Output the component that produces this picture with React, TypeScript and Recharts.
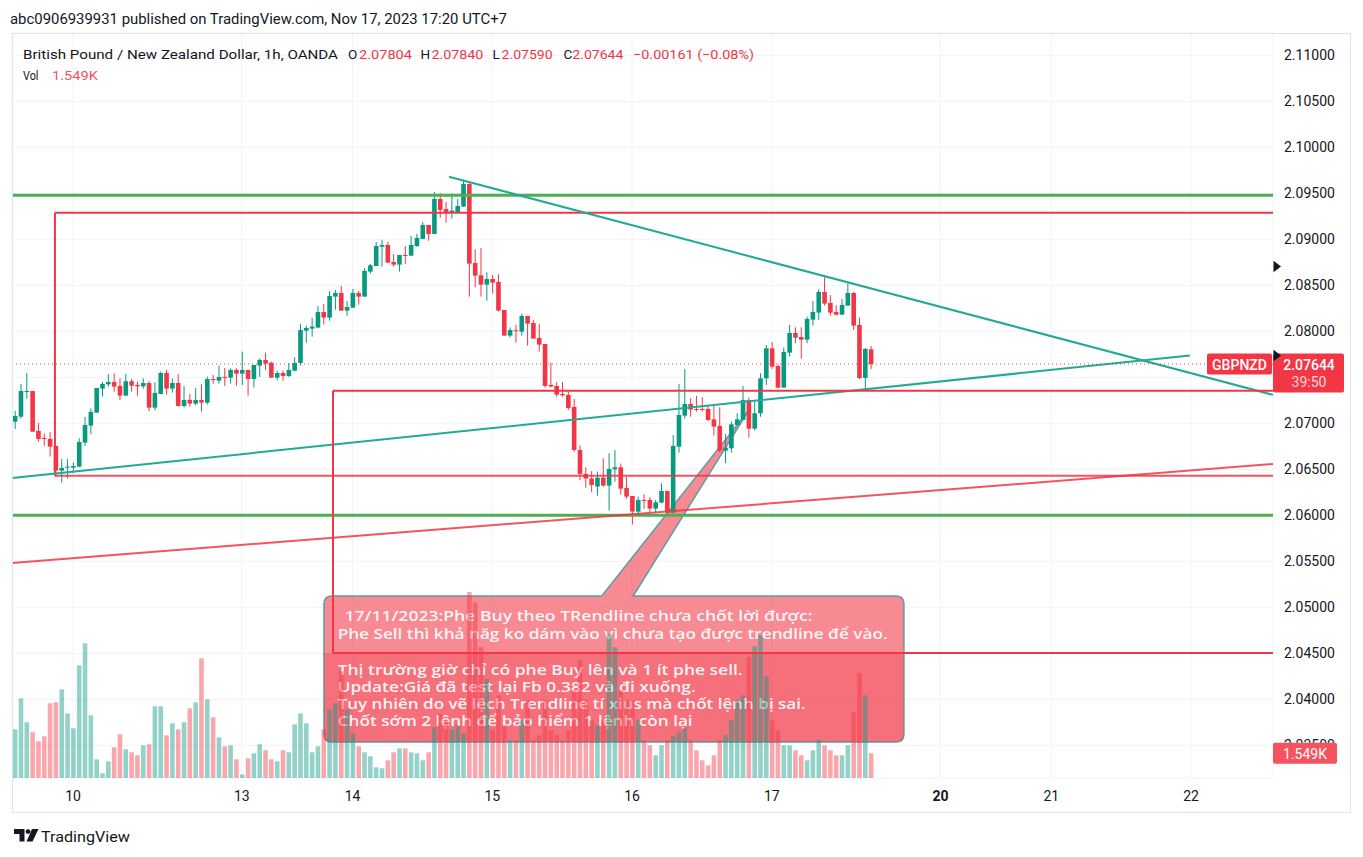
import React from 'react';
import { ComposedChart, Bar, XAxis, YAxis, CartesianGrid, ReferenceLine, ReferenceArea, Cell } from 'recharts';

// ---------- data (hourly bars, index 0 = Nov 10 00:00 UTC+7) ----------
const FIRST_BAR = -10;

const opens = [
  2.07018, 2.07072, 2.07344, 2.07351, 2.06917, 2.06841, 2.0683, 2.06754, 2.06486, 2.06518,
  2.06518, 2.06529, 2.0679, 2.06975, 2.07116, 2.07377, 2.07424, 2.07449, 2.07406, 2.07301,
  2.07457, 2.07417, 2.07402, 2.07438, 2.0717, 2.07319, 2.07547, 2.07377, 2.07438, 2.07188,
  2.07254, 2.07214, 2.07254, 2.07225, 2.07482, 2.07464, 2.07504, 2.07496, 2.0758, 2.0754,
  2.0758, 2.07482, 2.07627, 2.07688, 2.07659, 2.07496, 2.07547, 2.07514, 2.07572, 2.07656,
  2.08007, 2.08029, 2.0804, 2.0821, 2.08149, 2.08377, 2.08417, 2.08225, 2.08257, 2.08417,
  2.08377, 2.08649, 2.0871, 2.0892, 2.08938, 2.08754, 2.08725, 2.0883, 2.08822, 2.08927,
  2.09004, 2.09156, 2.09058, 2.09438, 2.0933, 2.09293, 2.09293, 2.09355, 2.09601, 2.08743,
  2.08609, 2.08507, 2.08569, 2.08536, 2.08232, 2.07953, 2.08011, 2.07996, 2.08167, 2.08091,
  2.07928, 2.07862, 2.07417, 2.07406, 2.07319, 2.07308, 2.07178, 2.0671, 2.0645, 2.064,
  2.06312, 2.06409, 2.06323, 2.065, 2.06522, 2.06297, 2.0621, 2.0604, 2.06167, 2.06167,
  2.06073, 2.06138, 2.06265, 2.06029, 2.06746, 2.07083, 2.0721, 2.07156, 2.07156, 2.07156,
  2.07043, 2.06971, 2.06703, 2.06728, 2.06982, 2.07036, 2.07254, 2.06942, 2.07109, 2.07489,
  2.07815, 2.07623, 2.07388, 2.07768, 2.07982, 2.07938, 2.07909, 2.08127, 2.08203, 2.08428,
  2.08308, 2.0821, 2.08181, 2.08279, 2.08417, 2.08069, 2.07493, 2.07804,
];
const highs = [
  2.07134, 2.07428, 2.07547, 2.07351, 2.07004, 2.06888, 2.06906, 2.06754, 2.06612, 2.06612,
  2.06576, 2.06837, 2.07069, 2.07163, 2.07384, 2.07449, 2.07536, 2.07543, 2.07489, 2.07536,
  2.07482, 2.07453, 2.07489, 2.07457, 2.07446, 2.07562, 2.07583, 2.07486, 2.07536, 2.07406,
  2.07319, 2.07384, 2.07424, 2.07507, 2.07525, 2.07627, 2.07601, 2.07598, 2.07598, 2.07779,
  2.0758, 2.07634, 2.07707, 2.07768, 2.0767, 2.07572, 2.07572, 2.07656, 2.07717, 2.0808,
  2.08062, 2.08145, 2.08275, 2.08297, 2.08438, 2.08449, 2.08493, 2.0833, 2.0846, 2.08438,
  2.08685, 2.08732, 2.08971, 2.08993, 2.08971, 2.08841, 2.0883, 2.08927, 2.09036, 2.09058,
  2.09188, 2.09156, 2.09514, 2.095, 2.09406, 2.095, 2.09438, 2.09652, 2.09616, 2.08891,
  2.08906, 2.08641, 2.08612, 2.0862, 2.08232, 2.08043, 2.08072, 2.08192, 2.08167, 2.08123,
  2.0808, 2.07862, 2.07659, 2.07449, 2.07449, 2.07344, 2.07265, 2.0676, 2.0652, 2.0648,
  2.06475, 2.0662, 2.06674, 2.0671, 2.06562, 2.0642, 2.0621, 2.06203, 2.06228, 2.06199,
  2.06167, 2.06348, 2.06265, 2.06873, 2.07428, 2.07591, 2.07272, 2.07297, 2.07283, 2.07192,
  2.07207, 2.07174, 2.06884, 2.07018, 2.07109, 2.07406, 2.07279, 2.07236, 2.07543, 2.07851,
  2.07884, 2.07641, 2.07826, 2.08069, 2.08043, 2.08043, 2.08159, 2.0833, 2.08456, 2.08587,
  2.08395, 2.08283, 2.08351, 2.08522, 2.08428, 2.08149, 2.07819, 2.0784,
];
const lows = [
  2.06938, 2.07051, 2.07268, 2.06909, 2.06801, 2.06754, 2.06638, 2.0642, 2.06355, 2.06402,
  2.06457, 2.06522, 2.06754, 2.0688, 2.07116, 2.0729, 2.07399, 2.07344, 2.07254, 2.07297,
  2.07344, 2.07301, 2.07377, 2.0713, 2.07141, 2.07315, 2.07312, 2.07333, 2.07181, 2.07174,
  2.07181, 2.07196, 2.07127, 2.07203, 2.07431, 2.07431, 2.07406, 2.07431, 2.07409, 2.07417,
  2.07301, 2.07388, 2.07504, 2.0758, 2.07496, 2.07467, 2.07464, 2.07504, 2.07565, 2.07627,
  2.07877, 2.07942, 2.0804, 2.08072, 2.08116, 2.08235, 2.08225, 2.0817, 2.08257, 2.0829,
  2.08377, 2.08627, 2.0871, 2.08703, 2.08746, 2.08703, 2.08649, 2.08732, 2.08822, 2.08917,
  2.09004, 2.08985, 2.09058, 2.09235, 2.09181, 2.09225, 2.09293, 2.09355, 2.08377, 2.08478,
  2.08377, 2.08333, 2.08409, 2.08214, 2.07953, 2.07931, 2.07877, 2.07953, 2.07844, 2.0792,
  2.07779, 2.07388, 2.07391, 2.0729, 2.0729, 2.07145, 2.0669, 2.0638, 2.063, 2.0625,
  2.06214, 2.06312, 2.06051, 2.06366, 2.06225, 2.06181, 2.05899, 2.05993, 2.06069, 2.06029,
  2.06022, 2.0613, 2.06004, 2.06022, 2.06681, 2.07051, 2.07072, 2.07127, 2.07127, 2.07025,
  2.06866, 2.06685, 2.06565, 2.06681, 2.06982, 2.07036, 2.06844, 2.0692, 2.07072, 2.07417,
  2.07591, 2.0738, 2.07388, 2.07725, 2.0787, 2.07703, 2.0787, 2.08062, 2.08123, 2.08279,
  2.0817, 2.0817, 2.08181, 2.08279, 2.08014, 2.07482, 2.07355, 2.0759,
];
const closes = [
  2.0708, 2.07351, 2.07351, 2.06909, 2.0683, 2.0683, 2.06746, 2.06486, 2.06515, 2.06529,
  2.06536, 2.06797, 2.06982, 2.07123, 2.07384, 2.07428, 2.07449, 2.07399, 2.07301, 2.07457,
  2.07409, 2.07402, 2.07438, 2.0717, 2.0733, 2.07547, 2.07377, 2.07438, 2.07188, 2.07254,
  2.07214, 2.07254, 2.07225, 2.07482, 2.07471, 2.07504, 2.07496, 2.0758, 2.0754, 2.0758,
  2.07482, 2.07634, 2.07688, 2.07649, 2.07496, 2.07547, 2.07514, 2.0758, 2.07656, 2.08014,
  2.08036, 2.08051, 2.0821, 2.08149, 2.08384, 2.08417, 2.08225, 2.08264, 2.08417, 2.08377,
  2.08656, 2.08717, 2.08927, 2.08938, 2.08746, 2.08725, 2.0883, 2.08822, 2.08938, 2.09014,
  2.09156, 2.09058, 2.09438, 2.09319, 2.0929, 2.09312, 2.09362, 2.09601, 2.08735, 2.08605,
  2.08507, 2.08569, 2.08529, 2.08225, 2.07953, 2.08014, 2.08004, 2.08167, 2.08083, 2.0792,
  2.07855, 2.07406, 2.07399, 2.07312, 2.07304, 2.07167, 2.0671, 2.0645, 2.064, 2.0633,
  2.06409, 2.06323, 2.06504, 2.06522, 2.0629, 2.06203, 2.0604, 2.06167, 2.06156, 2.06073,
  2.06141, 2.06265, 2.06029, 2.06754, 2.07091, 2.0721, 2.07149, 2.07145, 2.07145, 2.07036,
  2.06964, 2.06703, 2.06736, 2.06989, 2.07043, 2.07254, 2.06942, 2.07109, 2.07489, 2.07815,
  2.07616, 2.07388, 2.07775, 2.07982, 2.07931, 2.07909, 2.08134, 2.0821, 2.08428, 2.08301,
  2.08203, 2.08181, 2.08286, 2.08417, 2.08062, 2.07493, 2.07808, 2.07644,
];
const volumes = [
  3053, 4997, 3492, 2865, 2301, 2615, 4684, 4746, 5561, 4057,
  3116, 7066, 8446, 3931, 1172, 295, 1047, 1925, 2740, 1799,
  1611, 1423, 2050, 2113, 4496, 4496, 2677, 3430, 3053, 3492,
  4370, 4746, 7505, 4934, 3806, 2552, 1988, 2050, 1172, 232,
  1235, 1549, 2113, 1737, 1172, 1047, 1737, 1611, 3367, 4057,
  3430, 1611, 1988, 3053, 4307, 4684, 6690, 4307, 2803, 1988,
  1611, 1361, 671, 608, 1110, 1611, 1862, 1862, 1611, 1549,
  1110, 1611, 3179, 4000, 3618, 3053, 3300, 2803, 11660, 11000,
  8214, 6226, 2991, 5185, 3304, 2364, 2364, 3618, 4872, 2364,
  2677, 4872, 2991, 2677, 2364, 2991, 5499, 7380, 4872, 3618,
  3304, 3618, 9050, 8214, 5499, 4872, 4872, 3618, 2364, 2050,
  1423, 2050, 2364, 2615, 2865, 3156, 2364, 1737, 1110, 796,
  1423, 2364, 2677, 3618, 4872, 5185, 7587, 8258, 8947, 6376,
  3618, 2991, 2050, 2050, 1737, 1423, 1110, 1737, 2364, 2050,
  1737, 1423, 1423, 2050, 4138, 6584, 5185, 1549,
];

const timeTickIndex = [0, 29, 48, 72, 96, 120, 149, 168, 192];
const timeTickLabel = ['10', '13', '14', '15', '16', '17', '20', '21', '22'];
const priceTicks = [2.035, 2.04, 2.045, 2.05, 2.055, 2.06, 2.065, 2.07, 2.075, 2.08, 2.085, 2.09, 2.095, 2.1, 2.105, 2.11];

// ---------- view ----------
const X_MIN = -10.476;
const X_MAX = 206.08;
const P_MIN = 2.031446;
const P_MAX = 2.112424;
const V_MAX = 46711;
const PLOT_TOP = 33;
const PLOT_H = 745;

// ---------- drawings ----------
const greenLevels = [2.09478, 2.06];
const rectA = { x: -3.1, top: 2.09289, bottom: 2.0643 };
const rectB = { x: 44.65, top: 2.07354, bottom: 2.04503 };
const tealDown = [{ x: 64.57, y: 2.0968 }, { x: X_MAX, y: 2.07309 }];
const tealUp = [{ x: X_MIN, y: 2.06405 }, { x: 191.8, y: 2.07737 }];
const redUp = [{ x: X_MIN, y: 2.05482 }, { x: X_MAX, y: 2.06558 }];
const lastPrice = 2.07644;
const lastVolume = 1549;
const countdown = '39:50';
const markerPrices = [2.08704, 2.07737];

const calloutBox = { x1: 43.1, x2: 142.7, top: 2.05123, bottom: 2.03536 };
const calloutTail = { baseLeft: 90.8, baseRight: 96.2, tipX: 116.1, tipY: 2.07145 };
const calloutSplit = 2.04503;
const calloutLines = [
  '17/11/2023:Phe Buy theo TRendline chưa chốt lời được:',
  'Phe Sell thì khả năg ko dám vào vì chưa tạo được trendline để vào.',
  'Thị trường giờ chỉ có phe Buy lên và 1 ít phe sell.',
  'Update:Giá đã test lại Fb 0.382 và đi xuống.',
  'Tuy nhiên do vẽ lệch Trendline tí xius mà chốt lệnh bị sai.',
  'Chốt sớm 2 lệnh để bảo hiểm 1 lệnh còn lại',
];
const calloutLineX = [20.5, 13.7, 13.7, 13.7, 13.7, 13.7];
const calloutLineY = [19, 37, 73, 90, 107, 124];
const calloutLineW = [468, 550, 405, 358, 468, 355];

const UP = '#089981';
const DOWN = '#f23645';
const TEXT = '#131722';
const AXIS_FONT = 'Roboto, "Noto Sans", sans-serif';

const rows = opens.map((o, k) => ({
  i: FIRST_BAR + k,
  o,
  h: highs[k],
  l: lows[k],
  c: closes[k],
  range: [lows[k], highs[k]],
  v: volumes[k],
}));

const BODY_W = 4.6;

const priceToPx = (p: number) => PLOT_TOP + (P_MAX - p) / (P_MAX - P_MIN) * PLOT_H;
const volToPx = (v: number) => PLOT_TOP + PLOT_H - (v / V_MAX) * PLOT_H;

const CandleShape = (props: any) => {
  const { x, y, width, height, payload } = props;
  if (!payload || x == null || y == null) return null;
  const { o, h, l, c } = payload;
  const top = Math.min(y, y + height);
  const hh = Math.abs(height);
  const k = h - l > 0 ? hh / (h - l) : 0;
  const yO = top + (h - o) * k;
  const yC = top + (h - c) * k;
  const color = c >= o ? UP : DOWN;
  const cx = x + width / 2;
  const bTop = Math.min(yO, yC);
  const bH = Math.max(Math.abs(yO - yC), 1);
  return (
    <g>
      <line x1={cx} x2={cx} y1={top} y2={top + hh} stroke={color} strokeWidth={1} />
      <rect x={cx - BODY_W / 2} y={bTop} width={BODY_W} height={bH} fill={color} />
    </g>
  );
};

const TimeTick = (p: any) => {
  const idx = timeTickIndex.indexOf(p.payload.value);
  const label = idx >= 0 ? timeTickLabel[idx] : '';
  return (
    <text x={p.x} y={p.y + 18} textAnchor="middle" dominantBaseline="central" fontSize={14}
      fontFamily={AXIS_FONT} fill={TEXT} fontWeight={label === '20' ? 700 : 400}>
      {label}
    </text>
  );
};

// price scale labels; those under the last-price / volume badges are hidden or cut like on the source
const PriceTick = (p: any) => {
  const v = Number(p.payload.value);
  const yLast = priceToPx(lastPrice);
  const d = p.y - yLast;
  if (d > -10.5 - 7 && d < 28.5 + 7) return null;
  const volTop = volToPx(lastVolume) - 10.5;
  const clipped = p.y + 7 > volTop && p.y - 7 < volTop + 21;
  const id = 'tickclip' + String(v).replace('.', '_');
  return (
    <g>
      {clipped && (
        <defs>
          <clipPath id={id}>
            <rect x={p.x} y={p.y - 12} width={80} height={Math.max(0, volTop - (p.y - 12))} />
          </clipPath>
        </defs>
      )}
      <text x={p.x + 11} y={p.y} textAnchor="start" dominantBaseline="central" fontSize={14}
        fontFamily={AXIS_FONT} fill={TEXT} clipPath={clipped ? `url(#${id})` : undefined}>
        {v.toFixed(5)}
      </text>
    </g>
  );
};

const LastPriceLabel = (props: any) => {
  const vb = props.viewBox || {};
  const right = vb.x + vb.width;
  const yc = vb.y;
  return (
    <g>
      <rect x={right - 66} y={yc - 10.5} width={65} height={21} fill={DOWN} rx={2} />
      <text x={right - 33.5} y={yc + 0.5} textAnchor="middle" dominantBaseline="central" fontSize={14}
        fontFamily={AXIS_FONT} fill="#ffffff" fontWeight={500}>GBPNZD</text>
      <rect x={right} y={yc - 10.5} width={71} height={39} fill={DOWN} rx={2} />
      <text x={right + 36} y={yc + 0.5} textAnchor="middle" dominantBaseline="central" fontSize={14}
        fontFamily={AXIS_FONT} fill="#ffffff" fontWeight={500}>{lastPrice.toFixed(5)}</text>
      <text x={right + 36} y={yc + 18} textAnchor="middle" dominantBaseline="central" fontSize={14}
        fontFamily={AXIS_FONT} fill="#ffd6da">{countdown}</text>
    </g>
  );
};

const VolumeLabel = (props: any) => {
  const vb = props.viewBox || {};
  const right = vb.x + vb.width;
  const yc = vb.y;
  return (
    <g>
      <rect x={right} y={yc - 10.5} width={64} height={21} fill="#f7525f" rx={2} />
      <text x={right + 32} y={yc + 0.5} textAnchor="middle" dominantBaseline="central" fontSize={14}
        fontFamily={AXIS_FONT} fill="#ffffff">{(lastVolume / 1000).toFixed(3)}K</text>
    </g>
  );
};

const MarkerLabel = (props: any) => {
  const vb = props.viewBox || {};
  const right = vb.x + vb.width;
  const yc = vb.y;
  return <path d={`M${right + 0.5},${yc - 5.8} L${right + 8},${yc} L${right + 0.5},${yc + 5.8} Z`} fill={TEXT} />;
};

const CalloutShape = (props: any) => {
  const { x, y, width, height } = props;
  if (x == null) return null;
  const sx = width / (calloutBox.x2 - calloutBox.x1);
  const sy = height / (calloutBox.top - calloutBox.bottom);
  const px = (v: number) => x + (v - calloutBox.x1) * sx;
  const py = (p: number) => y + (calloutBox.top - p) * sy;
  const r = 8;
  const bl = px(calloutTail.baseLeft);
  const br = px(calloutTail.baseRight);
  const tx = px(calloutTail.tipX);
  const ty = py(calloutTail.tipY);
  const x2 = x + width;
  const y2 = y + height;
  const splitY = py(calloutSplit);
  const d = `M${x + r},${y} L${bl},${y} L${tx},${ty} L${br},${y} L${x2 - r},${y} Q${x2},${y} ${x2},${y + r} L${x2},${y2 - r} Q${x2},${y2} ${x2 - r},${y2} L${x + r},${y2} Q${x},${y2} ${x},${y2 - r} L${x},${y + r} Q${x},${y} ${x + r},${y} Z`;
  const lower = `M${x},${splitY} L${x2},${splitY} L${x2},${y2 - r} Q${x2},${y2} ${x2 - r},${y2} L${x + r},${y2} Q${x},${y2} ${x},${y2 - r} Z`;
  return (
    <g>
      <path d={d} fill={DOWN} fillOpacity={0.58} stroke="#5a9ea6" strokeWidth={1.5} />
      <path d={lower} fill={DOWN} fillOpacity={0.3} />
      {calloutLines.map((t, k) => (
        <text key={k} x={x + calloutLineX[k]} y={y + calloutLineY[k]} dominantBaseline="central"
          fontSize={15} fontWeight={600} fontFamily='"Open Sans", "Noto Sans", sans-serif'
          fill="#ffffff" fillOpacity={0.93} textLength={calloutLineW[k]} lengthAdjust="spacingAndGlyphs">
          {t}
        </text>
      ))}
    </g>
  );
};

export default function App() {
  const chartW = 1350;
  const chartH = 812;
  return (
    <div style={{ position: 'absolute', left: 0, top: 0, width: 1363, height: 857, background: '#ffffff', overflow: 'hidden' }}>
      <div style={{ position: 'absolute', left: 0, top: 0 }}>
        <ComposedChart width={chartW} height={chartH} data={rows} margin={{ top: PLOT_TOP, right: 0, bottom: 0, left: 12 }}>
          <CartesianGrid xAxisId="x" yAxisId="p" stroke="#f0f3fa" strokeWidth={1} />
          <XAxis xAxisId="x" dataKey="i" type="number" domain={[X_MIN, X_MAX]} allowDataOverflow
            ticks={timeTickIndex} interval={0} tick={TimeTick} tickLine={false} axisLine={false}
            tickSize={0} tickMargin={0} height={34} />
          <XAxis xAxisId="xv" dataKey="i" type="number" domain={[X_MIN, X_MAX]} allowDataOverflow hide />
          <YAxis yAxisId="p" orientation="right" type="number" domain={[P_MIN, P_MAX]} allowDataOverflow
            ticks={priceTicks} interval={0} tick={PriceTick} tickLine={false} axisLine={false}
            tickSize={0} tickMargin={0} width={77} />
          <YAxis yAxisId="v" type="number" domain={[0, V_MAX]} allowDataOverflow hide />

          <Bar xAxisId="xv" yAxisId="v" dataKey="v" barSize={4.6} isAnimationActive={false}>
            {rows.map((r, k) => (
              <Cell key={k} fill={r.c >= r.o ? UP : DOWN} fillOpacity={0.44} />
            ))}
          </Bar>
          <Bar xAxisId="x" yAxisId="p" dataKey="range" barSize={4.6} shape={CandleShape} isAnimationActive={false} />

          {greenLevels.map((g, k) => (
            <ReferenceLine key={'g' + k} xAxisId="x" yAxisId="p" y={g} stroke="#4caf50" strokeWidth={3} />
          ))}
          <ReferenceLine xAxisId="x" yAxisId="p" segment={[{ x: rectA.x, y: rectA.top }, { x: X_MAX, y: rectA.top }]} stroke={DOWN} strokeWidth={2} />
          <ReferenceLine xAxisId="x" yAxisId="p" segment={[{ x: rectA.x, y: rectA.bottom }, { x: X_MAX, y: rectA.bottom }]} stroke={DOWN} strokeOpacity={0.85} strokeWidth={2} />
          <ReferenceLine xAxisId="x" yAxisId="p" segment={[{ x: rectA.x, y: rectA.top }, { x: rectA.x, y: rectA.bottom }]} stroke={DOWN} strokeWidth={2} />
          <ReferenceLine xAxisId="x" yAxisId="p" segment={[tealDown[0], tealDown[1]]} stroke="#22ab94" strokeWidth={2} />
          <ReferenceLine xAxisId="x" yAxisId="p" segment={[tealUp[0], tealUp[1]]} stroke="#22ab94" strokeWidth={2} />
          <ReferenceLine xAxisId="x" yAxisId="p" segment={[redUp[0], redUp[1]]} stroke={DOWN} strokeOpacity={0.85} strokeWidth={2} />

          <ReferenceArea xAxisId="x" yAxisId="p" x1={calloutBox.x1} x2={calloutBox.x2} y1={calloutBox.bottom} y2={calloutBox.top}
            shape={CalloutShape} />

          <ReferenceLine xAxisId="x" yAxisId="p" segment={[{ x: rectB.x, y: rectB.top }, { x: X_MAX, y: rectB.top }]} stroke={DOWN} strokeWidth={2} />
          <ReferenceLine xAxisId="x" yAxisId="p" segment={[{ x: rectB.x, y: rectB.bottom }, { x: X_MAX, y: rectB.bottom }]} stroke={DOWN} strokeWidth={2} />
          <ReferenceLine xAxisId="x" yAxisId="p" segment={[{ x: rectB.x, y: rectB.top }, { x: rectB.x, y: rectB.bottom }]} stroke={DOWN} strokeWidth={2} />

          <ReferenceLine xAxisId="x" yAxisId="p" y={lastPrice} stroke={DOWN} strokeWidth={1} strokeDasharray="1 3" label={LastPriceLabel} />
          {markerPrices.map((m, k) => (
            <ReferenceLine key={'m' + k} xAxisId="x" yAxisId="p" y={m} stroke="none" label={MarkerLabel} />
          ))}
          <ReferenceLine xAxisId="xv" yAxisId="v" y={lastVolume} stroke="none" label={VolumeLabel} />
        </ComposedChart>
      </div>
      <svg width={1363} height={857} style={{ position: 'absolute', left: 0, top: 0, pointerEvents: 'none' }}>
        <rect x={12.5} y={33.5} width={1338} height={779} fill="none" stroke="#e0e3eb" strokeWidth={1} />
        <text x={10} y={24} fontSize={14} fontFamily={AXIS_FONT} fill={TEXT} textLength={497} lengthAdjust="spacingAndGlyphs">
          abc0906939931 published on TradingView.com, Nov 17, 2023 17:20 UTC+7
        </text>
        <g fontFamily={AXIS_FONT} fontSize={13.5}>
          <text x={23} y={59} fill={TEXT} textLength={315} lengthAdjust="spacingAndGlyphs">British Pound / New Zealand Dollar, 1h, OANDA</text>
          <text x={348} y={59} fill={TEXT}>O</text>
          <text x={359} y={59} fill={DOWN} textLength={53} lengthAdjust="spacingAndGlyphs">{opens[opens.length - 1].toFixed(5)}</text>
          <text x={420.5} y={59} fill={TEXT}>H</text>
          <text x={431.4} y={59} fill={DOWN} textLength={52} lengthAdjust="spacingAndGlyphs">{highs[highs.length - 1].toFixed(5)}</text>
          <text x={492.6} y={59} fill={TEXT}>L</text>
          <text x={501.6} y={59} fill={DOWN} textLength={51} lengthAdjust="spacingAndGlyphs">{lows[lows.length - 1].toFixed(5)}</text>
          <text x={563.5} y={59} fill={TEXT}>C</text>
          <text x={572.3} y={59} fill={DOWN} textLength={51} lengthAdjust="spacingAndGlyphs">{closes[closes.length - 1].toFixed(5)}</text>
          <text x={633} y={59} fill={DOWN} textLength={121} lengthAdjust="spacingAndGlyphs">−0.00161 (−0.08%)</text>
          <text x={23} y={80} fill={TEXT} textLength={15.5} lengthAdjust="spacingAndGlyphs">Vol</text>
          <text x={52} y={80} fill="#f7525f" textLength={46} lengthAdjust="spacingAndGlyphs">{(lastVolume / 1000).toFixed(3)}K</text>
        </g>
        <g fill={TEXT}>
          <path d="M14,829 h10.5 v12.5 h-5 v-7.5 h-5.5 z" />
          <circle cx={28} cy={831.6} r={2.4} />
          <path d="M32,829 h6.5 l-6,12.5 h-6 z" />
        </g>
        <text x={41} y={842} fontSize={15} fontFamily={AXIS_FONT} fill={TEXT} textLength={89} lengthAdjust="spacingAndGlyphs">TradingView</text>
      </svg>
    </div>
  );
}
